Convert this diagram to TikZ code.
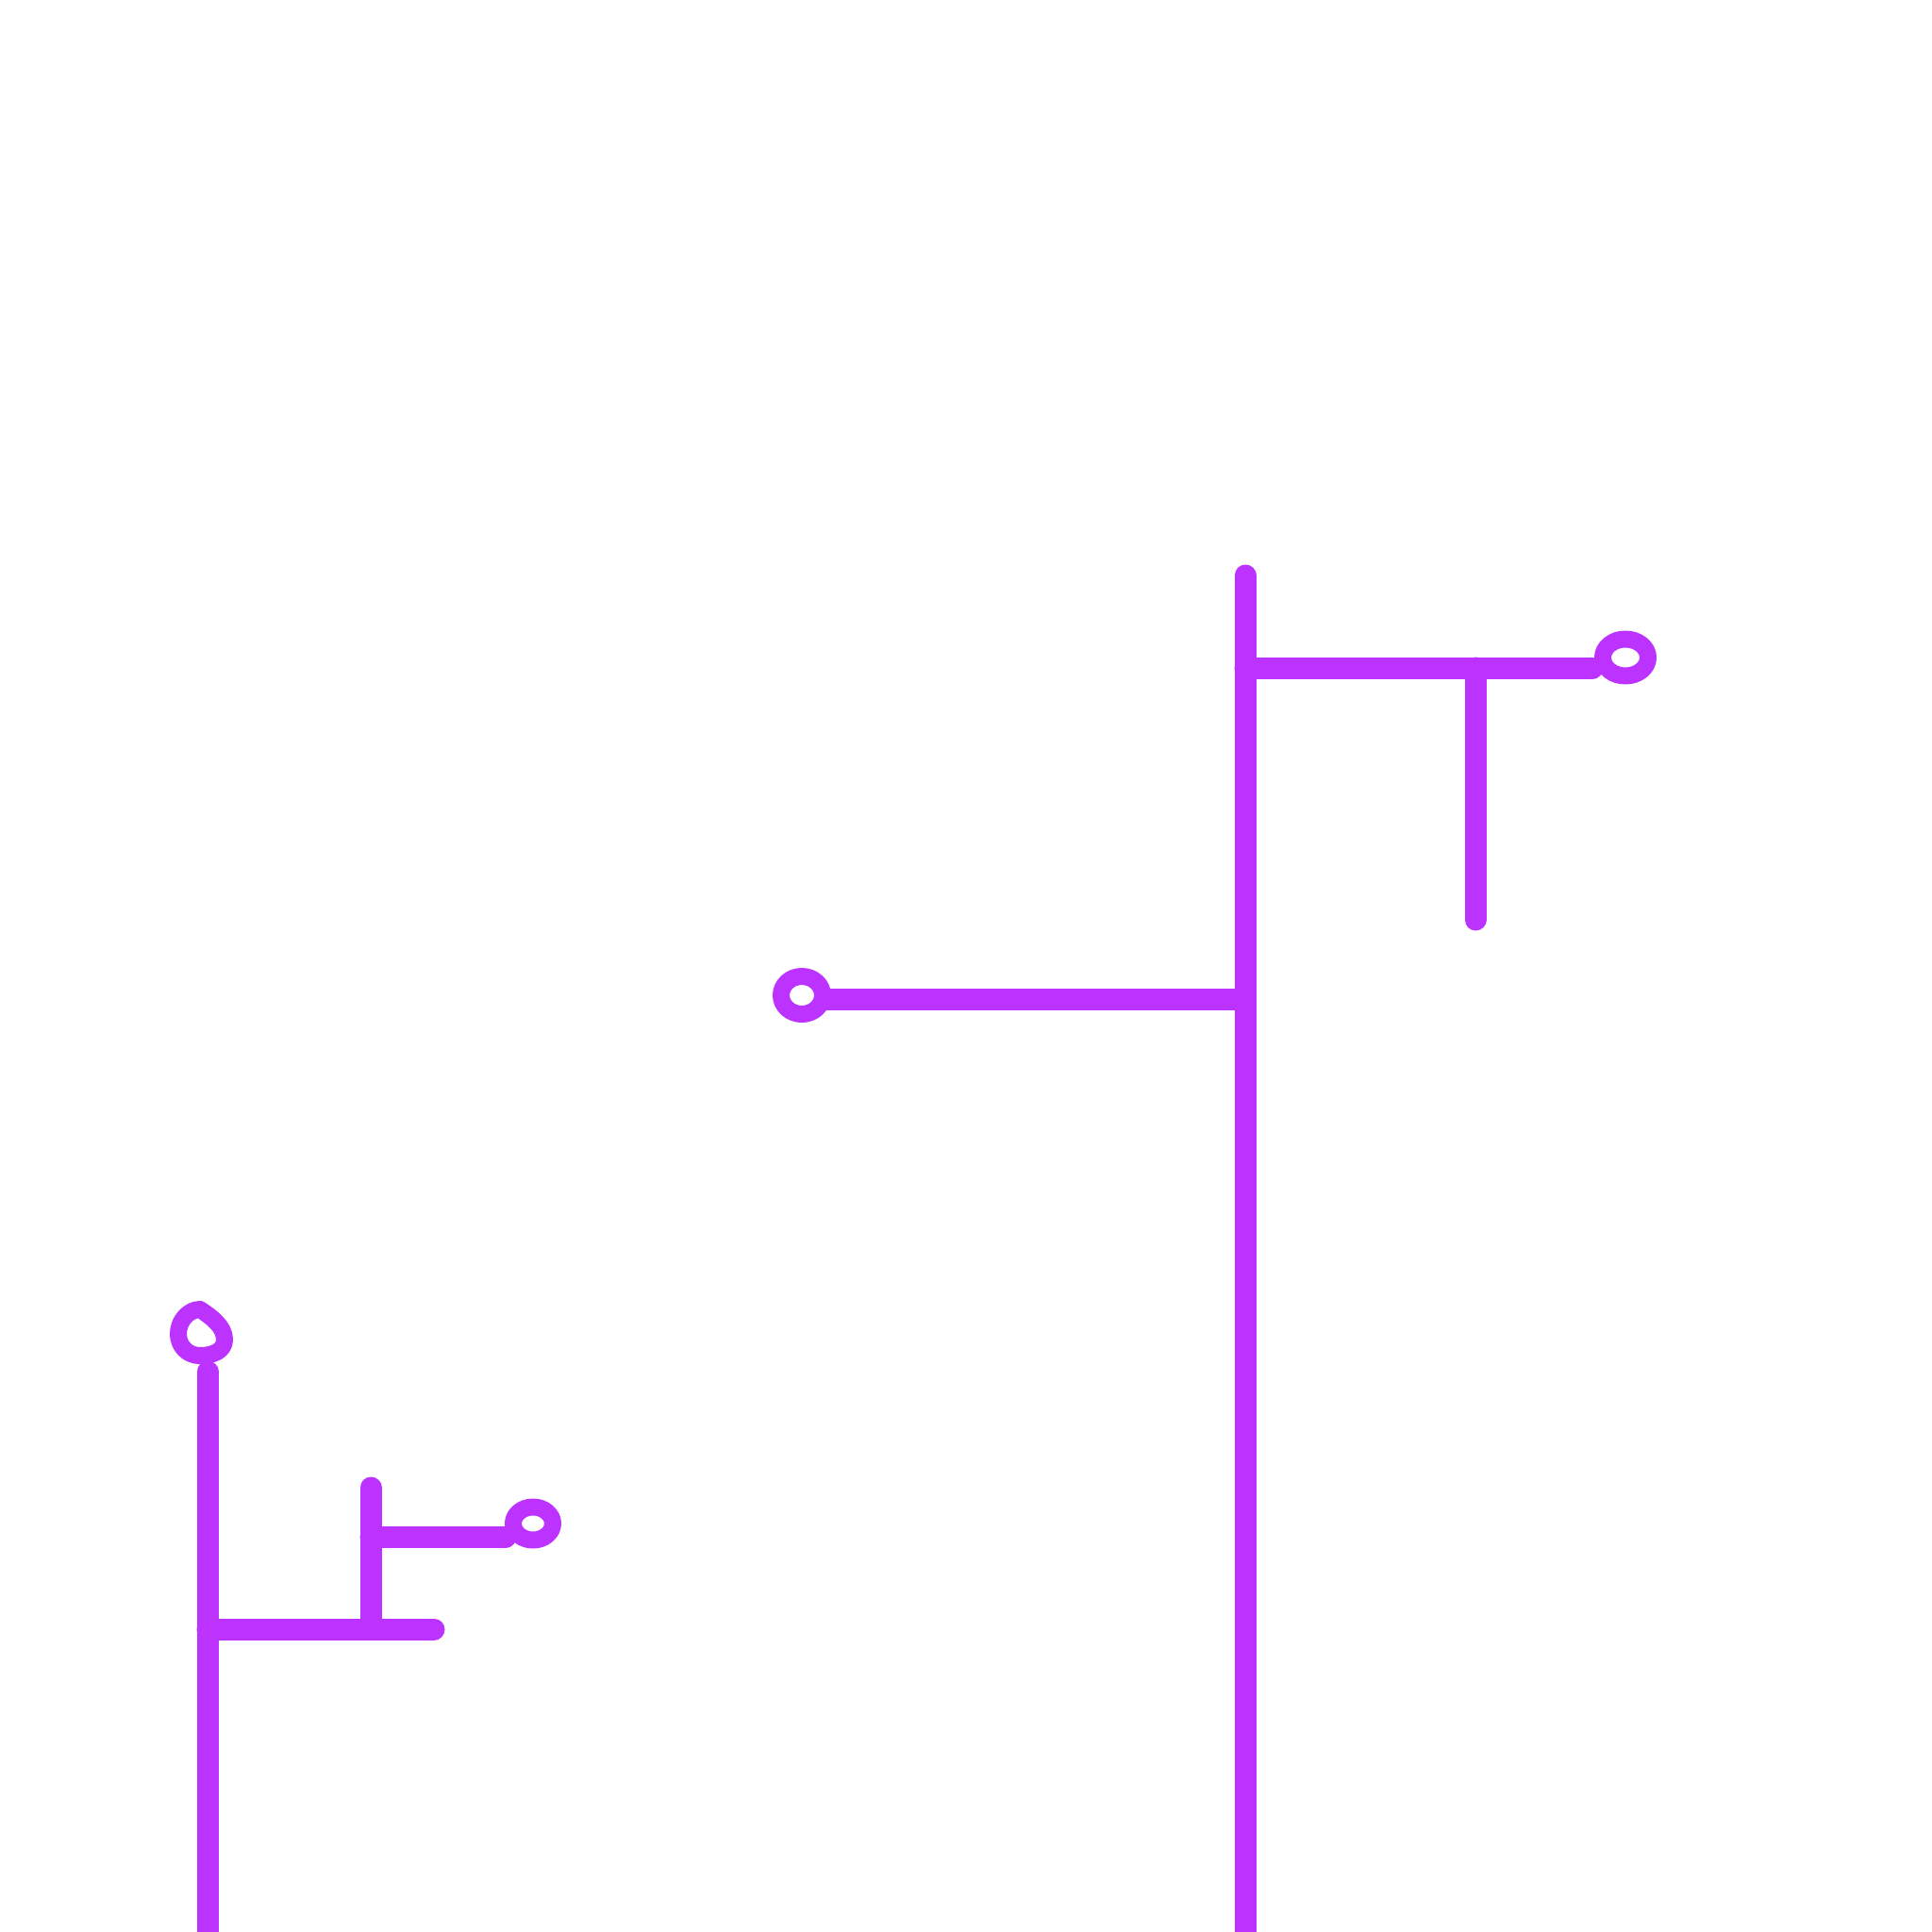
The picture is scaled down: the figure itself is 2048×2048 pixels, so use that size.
\documentclass[tikz,border=0pt]{standalone}
\definecolor{pen}{RGB}{188,50,255}
\tikzset{stroke/.style={draw=pen,line width=23pt,line cap=round,line join=round},
         loopring/.style={draw=pen,line width=18pt,line join=round}}
\begin{document}
\begin{tikzpicture}[x=1pt,y=-1pt]
\useasboundingbox[fill=white] (0,0) rectangle (2048,2048);
% right structure
\coordinate (A1) at (1320,610);
\coordinate (A2) at (1320,2070);
\coordinate (B1) at (1320,708);
\coordinate (B2) at (1688,708);
\coordinate (C1) at (1564,708);
\coordinate (C2) at (1564,975);
\coordinate (D1) at (876,1059);
\coordinate (D2) at (1320,1059);
\draw[stroke] (A1) -- (A2);
\draw[stroke] (B1) -- (B2);
\draw[stroke] (C1) -- (C2);
\draw[stroke] (D1) -- (D2);
\draw[loopring] (1723,697) ellipse [x radius=24, y radius=19.5];
\draw[loopring] (850,1055) ellipse [x radius=22, y radius=20];
% left structure
\coordinate (E1) at (220,1454);
\coordinate (E2) at (220,2070);
\coordinate (F1) at (220,1727);
\coordinate (F2) at (460,1727);
\coordinate (G1) at (393,1577);
\coordinate (G2) at (393,1727);
\coordinate (H1) at (393,1629);
\coordinate (H2) at (536,1629);
\draw[stroke] (E1) -- (E2);
\draw[stroke] (F1) -- (F2);
\draw[stroke] (G1) -- (G2);
\draw[stroke] (H1) -- (H2);
\draw[loopring] (212,1388) .. controls (224,1396) and (238,1406) .. (238,1420)
  .. controls (238,1432) and (226,1437) .. (212,1437)
  .. controls (198,1437) and (189,1426) .. (189,1414)
  .. controls (189,1400) and (200,1388) .. (212,1388) -- cycle;
\draw[loopring] (565,1615) ellipse [x radius=21, y radius=17.5];
\end{tikzpicture}
\end{document}
